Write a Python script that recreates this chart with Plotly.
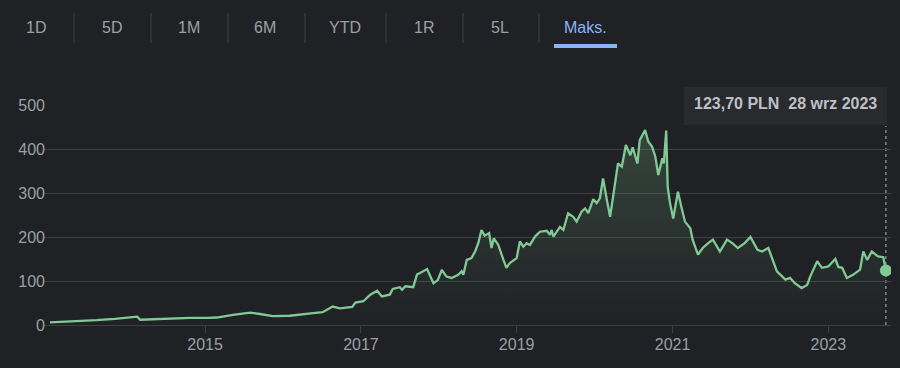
import plotly.graph_objects as go

dates = [
    "2013-01-04", "2013-05-01", "2013-08-10", "2013-11-03", "2014-01-15", "2014-02-17", "2014-03-03",
    "2014-04-16", "2014-08-11", "2014-10-23", "2015-01-12", "2015-02-25", "2015-05-12", "2015-07-31",
    "2015-09-16", "2015-11-14", "2016-02-03", "2016-03-21", "2016-05-22", "2016-07-05", "2016-08-22",
    "2016-09-24", "2016-11-21", "2016-12-06", "2017-01-12", "2017-02-14", "2017-03-18", "2017-04-09",
    "2017-05-16", "2017-05-30", "2017-07-02", "2017-07-13", "2017-07-28", "2017-09-03", "2017-09-21",
    "2017-10-05", "2017-11-07", "2017-12-07", "2017-12-27", "2018-01-15", "2018-02-06", "2018-03-02",
    "2018-04-02", "2018-04-18", "2018-04-26", "2018-05-12", "2018-06-03", "2018-06-20", "2018-07-05",
    "2018-07-20", "2018-08-04", "2018-08-25", "2018-09-05", "2018-09-16", "2018-10-07", "2018-10-31",
    "2018-11-14", "2018-11-30", "2019-01-01", "2019-01-16", "2019-02-01", "2019-02-17", "2019-03-04",
    "2019-03-28", "2019-04-20", "2019-05-22", "2019-06-06", "2019-06-14", "2019-06-22", "2019-07-23",
    "2019-08-08", "2019-08-30", "2019-09-23", "2019-10-09", "2019-11-02", "2019-11-18", "2019-12-03",
    "2019-12-26", "2020-01-11", "2020-01-26",
    "2020-02-10", "2020-02-28", "2020-03-14", "2020-04-05", "2020-04-20", "2020-05-08",
    "2020-05-27", "2020-06-17", "2020-06-28", "2020-07-20", "2020-07-31", "2020-08-25", "2020-09-09",
    "2020-09-27", "2020-10-12", "2020-10-26", "2020-11-14", "2020-11-21", "2020-12-02", "2020-12-09",
    "2020-12-20", "2021-01-04", "2021-01-26", "2021-02-13", "2021-02-28", "2021-03-25", "2021-04-05",
    "2021-04-30", "2021-05-22", "2021-06-17", "2021-07-09", "2021-08-11", "2021-09-13", "2021-10-08",
    "2021-11-03", "2021-12-05", "2022-01-01", "2022-02-03", "2022-02-25", "2022-03-26", "2022-04-17",
    "2022-05-05", "2022-06-14", "2022-07-06", "2022-07-28", "2022-08-29", "2022-09-24", "2022-10-08",
    "2022-11-10", "2022-12-02", "2023-01-01", "2023-02-03", "2023-02-17", "2023-03-07", "2023-03-29",
    "2023-04-27", "2023-05-30", "2023-06-14", "2023-07-02", "2023-07-24", "2023-08-22", "2023-09-16",
    "2023-09-28",
]
prices = [
    6, 8, 11, 14, 18, 19, 12,
    13, 15, 16, 16, 17, 23, 28,
    25, 20, 21, 24, 27, 29, 42,
    38, 41, 51, 54, 69, 78, 65,
    69, 82, 86, 80, 88, 86, 115,
    118, 127, 95, 102, 125, 110, 107,
    114, 122, 114, 148, 152, 167, 186,
    216, 203, 209, 175, 197, 182, 148,
    130, 141, 152, 190, 178, 186, 182,
    201, 212, 214, 205, 216, 201, 223,
    216, 254, 246, 235, 258, 265, 254,
    286, 277, 288,
    333, 284, 246, 318, 367, 360,
    409, 386, 404, 367, 420, 443, 417,
    405, 383, 341, 379, 367, 442, 314,
    277, 242, 303, 265, 235, 220, 194,
    160, 175, 186, 194, 167, 194, 186,
    175, 186, 200, 171, 167, 175, 148,
    122, 103, 107, 95, 84, 91, 110,
    145, 130, 133, 150, 132, 130, 107,
    114, 126, 167, 148, 167, 156, 154,
    123.7,
]

range_buttons = ["1D", "5D", "1M", "6M", "YTD", "1R", "5L", "Maks."]
tick_dates = ["2015-01-01", "2017-01-01", "2019-01-01", "2021-01-01", "2023-01-01"]
tick_labels = ["2015", "2017", "2019", "2021", "2023"]
y_ticks = [0, 100, 200, 300, 400, 500]
tooltip_text = "123,70 PLN&nbsp; 28 wrz 2023"

W, H = 900, 368
L, R, T, B = 44, 891, 105, 325
GREEN = "#81c995"
BG = "#202124"
GRID = "#3c4043"
TXT = "#9aa0a6"
FONT = "Liberation Sans, Arial, sans-serif"


def px(x):
    return (x - L) / (R - L)


def py(y):
    return (B - y) / (B - T)


fig = go.Figure()
fig.add_trace(go.Scatter(
    x=dates, y=prices, mode="lines",
    line=dict(color=GREEN, width=2.3),
    fill="tozeroy",
    fillgradient=dict(type="vertical",
                      colorscale=[[0, "rgba(129,201,149,0.0)"], [1, "rgba(129,201,149,0.22)"]]),
    hoverinfo="skip",
))
fig.add_trace(go.Scatter(
    x=[dates[-1]], y=[prices[-1]], mode="markers",
    marker=dict(color=GREEN, size=12, line=dict(width=0)), hoverinfo="skip",
))

shapes = []
annotations = []

# range buttons
btn_x = [36, 112, 189, 265, 345, 424, 500, 585]
sep_x = [74, 151, 228, 305, 386, 463, 539]
for label, bx in zip(range_buttons, btn_x):
    active = label == "Maks."
    annotations.append(dict(
        xref="paper", yref="paper", x=px(bx), y=py(28), text=label, showarrow=False,
        xanchor="center", yanchor="middle",
        font=dict(family=FONT, size=16, color="#8ab4f8" if active else TXT),
    ))
for sx in sep_x:
    shapes.append(dict(type="line", xref="paper", yref="paper",
                       x0=px(sx), x1=px(sx), y0=py(13), y1=py(43),
                       line=dict(color=GRID, width=1)))
shapes.append(dict(type="rect", xref="paper", yref="paper",
                   x0=px(554), x1=px(617), y0=py(44), y1=py(48),
                   fillcolor="#8ab4f8", line=dict(width=0)))

# tooltip
shapes.append(dict(type="line", xref="x", yref="paper",
                   x0=dates[-1], x1=dates[-1], y0=0, y1=py(126),
                   line=dict(color="#80868b", width=1.5, dash="dot"), layer="below"))
shapes.append(dict(type="rect", xref="paper", yref="paper",
                   x0=px(684), x1=px(887), y0=py(125), y1=py(87),
                   fillcolor="#292a2d", line=dict(width=0), layer="above"))
annotations.append(dict(
    xref="paper", yref="paper", x=px(785), y=py(104), text=tooltip_text, showarrow=False,
    xanchor="center", yanchor="middle",
    font=dict(family=FONT, size=16, color="#bdc1c6", weight=600),
))

fig.update_layout(
    width=W, height=H,
    margin=dict(l=L, r=W - R, t=T, b=H - B),
    paper_bgcolor=BG, plot_bgcolor=BG,
    showlegend=False, hovermode=False,
    shapes=shapes, annotations=annotations,
    xaxis=dict(
        type="date", range=["2012-12-07", "2023-10-22"],
        tickvals=tick_dates, ticktext=tick_labels,
        showgrid=False, showline=True, linecolor=GRID, linewidth=1,
        ticks="outside", ticklen=7, tickcolor=GRID,
        ticklabelstandoff=-2,
        tickfont=dict(family=FONT, size=16, color=TXT),
        zeroline=False, fixedrange=True,
    ),
    yaxis=dict(
        range=[0, 500], tickvals=y_ticks,
        showgrid=True, gridcolor=GRID, gridwidth=1,
        zeroline=False, showline=False, ticks="",
        ticklabelstandoff=-2,
        tickfont=dict(family=FONT, size=16, color=TXT),
        fixedrange=True,
    ),
)

fig.write_html(
    "out.html",
    config={"displayModeBar": False, "staticPlot": True},
    post_script="document.body.style.margin='0';document.body.style.background='#202124';",
)
